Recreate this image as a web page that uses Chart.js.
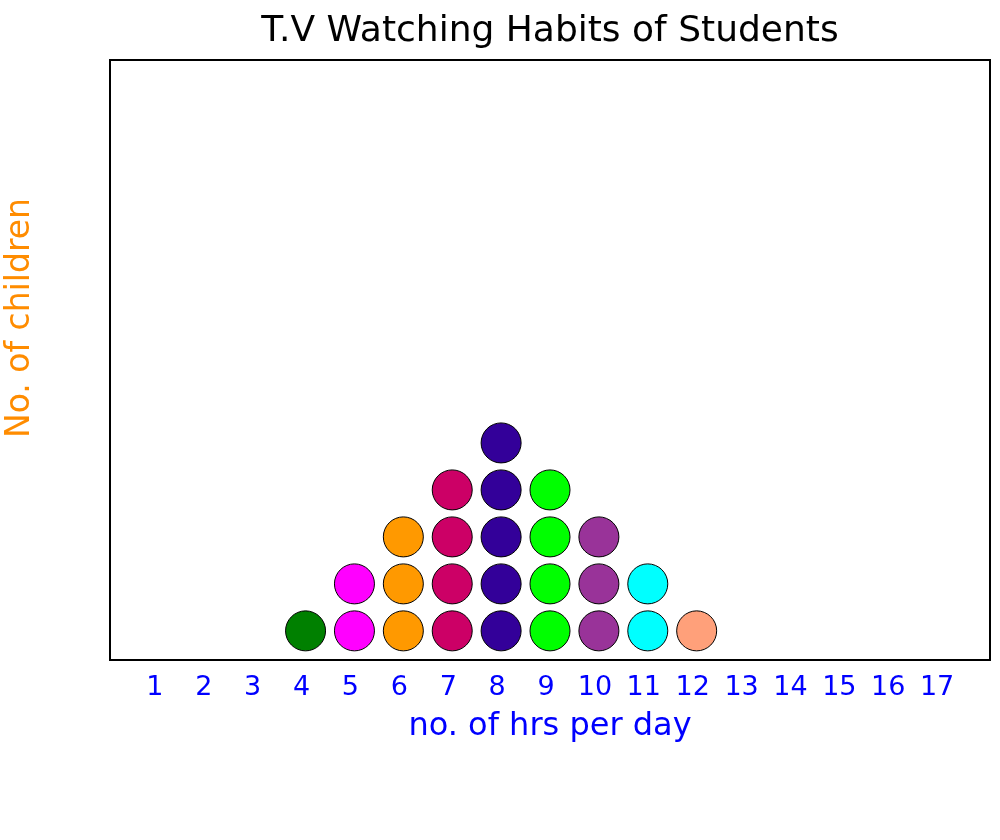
<!DOCTYPE html>
<html>
<head>
<meta charset="utf-8">
<script src="https://cdn.jsdelivr.net/npm/chart.js@4"></script>
<style>
  body { margin: 0; background: #fff; }
  #wrap { width: 1000px; height: 840px; }
</style>
</head>
<body>
<div id="wrap"><canvas id="dot-chart"></canvas></div>
<script>
// hours per day and how many students watch that much
const hours = [4, 5, 6, 7, 8, 9, 10, 11, 12];
const counts = [1, 2, 3, 4, 5, 4, 3, 2, 1];
const dotColors = ["#008000", "#ff00ff", "#ff9900", "#cc0066", "#330099", "#00ff00", "#993399", "#00ffff", "#ffa07a"];
const xTicks = [1, 2, 3, 4, 5, 6, 7, 8, 9, 10, 11, 12, 13, 14, 15, 16, 17];

// one dataset per hour, stacked dots 1..count
const datasets = hours.map(function (h, i) {
  const pts = [];
  for (let k = 1; k <= counts[i]; k++) pts.push({ x: h, y: k });
  return {
    label: h + " hrs",
    data: pts,
    backgroundColor: dotColors[i],
    borderColor: "#000",
    borderWidth: 1,
    pointRadius: 20,
    pointHoverRadius: 20
  };
});

// black frame round the plot + y axis title
const frame = {
  id: "frame",
  afterDraw(chart) {
    const a = chart.chartArea, ctx = chart.ctx;
    ctx.save();
    ctx.strokeStyle = "#000";
    ctx.lineWidth = 2;
    ctx.strokeRect(a.left, a.top, a.right - a.left, a.bottom - a.top);
    ctx.translate(20, 318);
    ctx.rotate(-Math.PI / 2);
    ctx.fillStyle = "#ff8c00";
    ctx.font = "33px 'DejaVu Sans'";
    ctx.textAlign = "center";
    ctx.textBaseline = "middle";
    ctx.fillText("No. of children", 0, 0);
    ctx.restore();
  }
};

new Chart(document.getElementById("dot-chart"), {
  type: "scatter",
  data: { datasets: datasets },
  plugins: [frame],
  options: {
    responsive: true,
    maintainAspectRatio: false,
    animation: false,
    layout: { autoPadding: false, padding: { left: 0, right: 10, top: 0, bottom: 90 } },
    plugins: {
      legend: { display: false },
      tooltip: { enabled: false },
      title: {
        display: true,
        fullSize: false,
        text: "T.V Watching Habits of Students",
        color: "#000",
        font: { family: "DejaVu Sans", size: 36, weight: "normal" },
        padding: { top: 10, bottom: 6.8 }
      }
    },
    scales: {
      x: {
        type: "linear",
        min: 0,
        max: 18,
        grid: { display: false, drawTicks: false },
        border: { display: false },
        afterBuildTicks(scale) { scale.ticks = xTicks.map(v => ({ value: v })); },
        afterFit(scale) {
          scale.height = 90;
          scale.paddingLeft = 0;
          scale.paddingRight = 0;
        },
        ticks: {
          autoSkip: false,
          maxRotation: 0,
          padding: 12,
          labelOffset: -4,
          color: "#0000ff",
          font: { family: "DejaVu Sans", size: 27 }
        },
        title: {
          display: true,
          text: "no. of hrs per day",
          color: "#0000ff",
          font: { family: "DejaVu Sans", size: 32 },
          padding: { top: 0, bottom: 4 }
        }
      },
      y: {
        min: 0.38,
        max: 13.15,
        grid: { display: false },
        border: { display: false },
        ticks: { display: false },
        afterFit(scale) { scale.width = 110; }
      }
    }
  }
});
</script>
</body>
</html>
